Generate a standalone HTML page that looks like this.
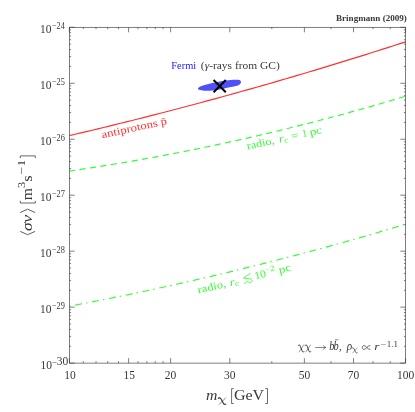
<!DOCTYPE html><html><head><meta charset="utf-8"><style>html,body{margin:0;padding:0;background:#fff}svg{will-change:transform}</style></head><body><svg width="415" height="412" viewBox="0 0 415 412" style="display:block;font-family:'Liberation Serif',serif">
<rect width="415" height="412" fill="#fff"/>
<clipPath id="cp"><rect x="69.4" y="27.3" width="336.20000000000005" height="335.8"/></clipPath>
<g clip-path="url(#cp)" fill="none">
<path d="M69.40,135.57 L75.10,134.24 L80.80,132.90 L86.49,131.56 L92.19,130.20 L97.89,128.83 L103.59,127.46 L109.29,126.07 L114.99,124.68 L120.68,123.28 L126.38,121.87 L132.08,120.45 L137.78,119.02 L143.48,117.58 L149.18,116.14 L154.87,114.68 L160.57,113.22 L166.27,111.74 L171.97,110.26 L177.67,108.77 L183.37,107.27 L189.06,105.76 L194.76,104.25 L200.46,102.72 L206.16,101.18 L211.86,99.64 L217.56,98.09 L223.25,96.52 L228.95,94.95 L234.65,93.37 L240.35,91.79 L246.05,90.19 L251.75,88.58 L257.44,86.97 L263.14,85.34 L268.84,83.71 L274.54,82.06 L280.24,80.41 L285.94,78.75 L291.63,77.08 L297.33,75.41 L303.03,73.72 L308.73,72.02 L314.43,70.32 L320.13,68.61 L325.82,66.88 L331.52,65.15 L337.22,63.41 L342.92,61.66 L348.62,59.90 L354.32,58.14 L360.01,56.36 L365.71,54.58 L371.41,52.78 L377.11,50.98 L382.81,49.17 L388.51,47.35 L394.20,45.52 L399.90,43.68 L405.60,41.83" stroke="#ff3030" stroke-width="1.18"/>
<path d="M69.40,171.07 L75.10,170.24 L80.80,169.39 L86.49,168.53 L92.19,167.66 L97.89,166.77 L103.59,165.86 L109.29,164.94 L114.99,164.01 L120.68,163.06 L126.38,162.09 L132.08,161.11 L137.78,160.11 L143.48,159.10 L149.18,158.08 L154.87,157.04 L160.57,155.98 L166.27,154.91 L171.97,153.82 L177.67,152.72 L183.37,151.61 L189.06,150.47 L194.76,149.33 L200.46,148.17 L206.16,146.99 L211.86,145.80 L217.56,144.59 L223.25,143.37 L228.95,142.13 L234.65,140.88 L240.35,139.61 L246.05,138.33 L251.75,137.03 L257.44,135.72 L263.14,134.39 L268.84,133.05 L274.54,131.69 L280.24,130.32 L285.94,128.93 L291.63,127.53 L297.33,126.11 L303.03,124.68 L308.73,123.23 L314.43,121.77 L320.13,120.29 L325.82,118.79 L331.52,117.28 L337.22,115.76 L342.92,114.22 L348.62,112.67 L354.32,111.10 L360.01,109.52 L365.71,107.92 L371.41,106.30 L377.11,104.67 L382.81,103.03 L388.51,101.37 L394.20,99.69 L399.90,98.00 L405.60,96.30" stroke="#33ff33" stroke-width="1.2" stroke-dasharray="6.1 4.47" stroke-dashoffset="0.4"/>
<path d="M69.40,306.22 L75.10,305.15 L80.80,304.06 L86.49,302.97 L92.19,301.87 L97.89,300.75 L103.59,299.63 L109.29,298.49 L114.99,297.34 L120.68,296.19 L126.38,295.02 L132.08,293.83 L137.78,292.64 L143.48,291.44 L149.18,290.23 L154.87,289.00 L160.57,287.77 L166.27,286.52 L171.97,285.26 L177.67,283.99 L183.37,282.72 L189.06,281.42 L194.76,280.12 L200.46,278.81 L206.16,277.49 L211.86,276.15 L217.56,274.81 L223.25,273.45 L228.95,272.08 L234.65,270.71 L240.35,269.32 L246.05,267.92 L251.75,266.51 L257.44,265.08 L263.14,263.65 L268.84,262.21 L274.54,260.75 L280.24,259.28 L285.94,257.81 L291.63,256.32 L297.33,254.82 L303.03,253.31 L308.73,251.79 L314.43,250.26 L320.13,248.71 L325.82,247.16 L331.52,245.59 L337.22,244.02 L342.92,242.43 L348.62,240.83 L354.32,239.22 L360.01,237.60 L365.71,235.97 L371.41,234.33 L377.11,232.68 L382.81,231.02 L388.51,229.34 L394.20,227.65 L399.90,225.96 L405.60,224.25" stroke="#33ff33" stroke-width="1.15" stroke-dasharray="7 4 1.5 4.665" stroke-dashoffset="11.23"/>
</g>
<path d="M198.00,88.30 C198.20,87.90 198.55,87.42 199.50,86.90 C200.45,86.38 202.03,85.73 203.70,85.20 C205.37,84.67 207.62,84.15 209.50,83.70 C211.38,83.25 213.30,82.85 215.00,82.50 C216.70,82.15 217.87,81.93 219.70,81.60 C221.53,81.27 224.12,80.78 226.00,80.50 C227.88,80.22 229.33,80.03 231.00,79.90 C232.67,79.77 234.58,79.67 236.00,79.70 C237.42,79.73 238.67,79.75 239.50,80.10 C240.33,80.45 240.85,81.22 241.00,81.80 C241.15,82.38 240.83,83.03 240.40,83.60 C239.97,84.17 239.97,84.63 238.40,85.20 C236.83,85.77 233.07,86.55 231.00,87.00 C228.93,87.45 227.88,87.47 226.00,87.90 C224.12,88.33 221.53,89.20 219.70,89.60 C217.87,90.00 216.70,90.10 215.00,90.30 C213.30,90.50 211.33,90.73 209.50,90.80 C207.67,90.87 205.58,90.82 204.00,90.70 C202.42,90.58 200.95,90.33 200.00,90.10 C199.05,89.87 198.63,89.60 198.30,89.30 C197.97,89.00 197.80,88.70 198.00,88.30Z" fill="#5050f8"/>
<path d="M213.6,80 L225.8,92.2 M225.8,80 L213.6,92.2" stroke="#000" stroke-width="2" fill="none"/>
<g stroke="#3a3a3a" stroke-width="0.65" fill="none">
<rect x="69.4" y="27.3" width="336.20000000000005" height="335.8"/>
<path d="M69.40,363.1v-5 M69.40,27.3v5 M128.60,363.1v-5 M128.60,27.3v5 M170.61,363.1v-5 M170.61,27.3v5 M229.81,363.1v-5 M229.81,27.3v5 M304.39,363.1v-5 M304.39,27.3v5 M353.52,363.1v-5 M353.52,27.3v5 M405.60,363.1v-5 M405.60,27.3v5 M83.32,363.1v-1.9 M83.32,27.3v1.9 M96.02,363.1v-1.9 M96.02,27.3v1.9 M107.71,363.1v-1.9 M107.71,27.3v1.9 M118.53,363.1v-1.9 M118.53,27.3v1.9 M138.03,363.1v-1.9 M138.03,27.3v1.9 M146.88,363.1v-1.9 M146.88,27.3v1.9 M155.22,363.1v-1.9 M155.22,27.3v1.9 M163.12,363.1v-1.9 M163.12,27.3v1.9 M271.81,363.1v-1.9 M271.81,27.3v1.9 M331.01,363.1v-1.9 M331.01,27.3v1.9 M373.02,363.1v-1.9 M373.02,27.3v1.9 M390.22,363.1v-1.9 M390.22,27.3v1.9 M69.4,363.10h5.3 M405.6,363.10h-5.3 M69.4,346.25h1.7 M405.6,346.25h-1.7 M69.4,336.40h1.7 M405.6,336.40h-1.7 M69.4,329.40h1.7 M405.6,329.40h-1.7 M69.4,323.98h1.7 M405.6,323.98h-1.7 M69.4,319.55h1.7 M405.6,319.55h-1.7 M69.4,315.80h1.7 M405.6,315.80h-1.7 M69.4,312.56h1.7 M405.6,312.56h-1.7 M69.4,309.69h1.7 M405.6,309.69h-1.7 M69.4,307.13h5.3 M405.6,307.13h-5.3 M69.4,290.29h1.7 M405.6,290.29h-1.7 M69.4,280.43h1.7 M405.6,280.43h-1.7 M69.4,273.44h1.7 M405.6,273.44h-1.7 M69.4,268.01h1.7 M405.6,268.01h-1.7 M69.4,263.58h1.7 M405.6,263.58h-1.7 M69.4,259.84h1.7 M405.6,259.84h-1.7 M69.4,256.59h1.7 M405.6,256.59h-1.7 M69.4,253.73h1.7 M405.6,253.73h-1.7 M69.4,251.17h5.3 M405.6,251.17h-5.3 M69.4,234.32h1.7 M405.6,234.32h-1.7 M69.4,224.46h1.7 M405.6,224.46h-1.7 M69.4,217.47h1.7 M405.6,217.47h-1.7 M69.4,212.05h1.7 M405.6,212.05h-1.7 M69.4,207.62h1.7 M405.6,207.62h-1.7 M69.4,203.87h1.7 M405.6,203.87h-1.7 M69.4,200.62h1.7 M405.6,200.62h-1.7 M69.4,197.76h1.7 M405.6,197.76h-1.7 M69.4,195.20h5.3 M405.6,195.20h-5.3 M69.4,178.35h1.7 M405.6,178.35h-1.7 M69.4,168.50h1.7 M405.6,168.50h-1.7 M69.4,161.50h1.7 M405.6,161.50h-1.7 M69.4,156.08h1.7 M405.6,156.08h-1.7 M69.4,151.65h1.7 M405.6,151.65h-1.7 M69.4,147.90h1.7 M405.6,147.90h-1.7 M69.4,144.66h1.7 M405.6,144.66h-1.7 M69.4,141.79h1.7 M405.6,141.79h-1.7 M69.4,139.23h5.3 M405.6,139.23h-5.3 M69.4,122.39h1.7 M405.6,122.39h-1.7 M69.4,112.53h1.7 M405.6,112.53h-1.7 M69.4,105.54h1.7 M405.6,105.54h-1.7 M69.4,100.11h1.7 M405.6,100.11h-1.7 M69.4,95.68h1.7 M405.6,95.68h-1.7 M69.4,91.94h1.7 M405.6,91.94h-1.7 M69.4,88.69h1.7 M405.6,88.69h-1.7 M69.4,85.83h1.7 M405.6,85.83h-1.7 M69.4,83.27h5.3 M405.6,83.27h-5.3 M69.4,66.42h1.7 M405.6,66.42h-1.7 M69.4,56.56h1.7 M405.6,56.56h-1.7 M69.4,49.57h1.7 M405.6,49.57h-1.7 M69.4,44.15h1.7 M405.6,44.15h-1.7 M69.4,39.72h1.7 M405.6,39.72h-1.7 M69.4,35.97h1.7 M405.6,35.97h-1.7 M69.4,32.72h1.7 M405.6,32.72h-1.7 M69.4,29.86h1.7 M405.6,29.86h-1.7 M69.4,27.30h5.3 M405.6,27.30h-5.3 "/>
</g>
<g fill="#383838">
<text x="70.00" y="378.60" font-size="11.5px" text-anchor="middle">10</text>
<text x="129.20" y="378.60" font-size="11.5px" text-anchor="middle">15</text>
<text x="170.61" y="378.60" font-size="11.5px" text-anchor="middle">20</text>
<text x="229.81" y="378.60" font-size="11.5px" text-anchor="middle">30</text>
<text x="304.39" y="378.60" font-size="11.5px" text-anchor="middle">50</text>
<text x="353.52" y="378.60" font-size="11.5px" text-anchor="middle">70</text>
<text x="405.60" y="378.60" font-size="11.5px" text-anchor="middle">100</text>
<text x="51.90" y="368.70" font-size="11.5px" text-anchor="end">10</text>
<text x="51.7" y="365.10" font-size="11.5px"><tspan font-size="9px">−</tspan>30</text>
<text x="51.40" y="312.73" font-size="11.5px" text-anchor="end">10</text>
<text transform="translate(51.80,308.83) scale(0.8938,1)" font-size="9.3px">−29</text>
<text x="51.40" y="256.77" font-size="11.5px" text-anchor="end">10</text>
<text transform="translate(51.80,252.87) scale(0.8938,1)" font-size="9.3px">−28</text>
<text x="51.40" y="200.80" font-size="11.5px" text-anchor="end">10</text>
<text transform="translate(51.80,196.90) scale(0.8938,1)" font-size="9.3px">−27</text>
<text x="51.40" y="144.83" font-size="11.5px" text-anchor="end">10</text>
<text transform="translate(51.80,140.93) scale(0.8938,1)" font-size="9.3px">−26</text>
<text x="51.40" y="88.87" font-size="11.5px" text-anchor="end">10</text>
<text transform="translate(51.80,84.97) scale(0.8938,1)" font-size="9.3px">−25</text>
<text x="51.40" y="32.90" font-size="11.5px" text-anchor="end">10</text>
<text transform="translate(51.80,29.00) scale(0.8938,1)" font-size="9.3px">−24</text>
<text transform="translate(336.00,21.30) scale(1.0106,1)" font-size="9px" style="font-weight:bold">Bringmann (2009)</text>
<text transform="translate(171.30,68.90) scale(0.9874,1)" font-size="10.6px" fill="#1a1aff">Fermi</text>
<text transform="translate(200.80,68.90) scale(1.0821,1)" font-size="10.6px">(<tspan style="font-style:italic">γ</tspan>-rays from GC)</text>
</g>
<g transform="translate(102.3,138.2) rotate(-12.2)" fill="#ff3030">
<text transform="translate(0.00,0.00) scale(1.1782,1)" font-size="10.8px">antiprotons p̄</text>
</g>
<g transform="translate(247.6,149.6) rotate(-12.5)" fill="#33ff33">
<text transform="translate(0.00,0.00) scale(1.1461,1)" font-size="10.6px">radio,</text>
<text transform="translate(32.60,0.00) scale(1.2121,1)" font-size="10.6px" style="font-style:italic">r</text>
<text transform="translate(37.80,1.60) scale(1.1562,1)" font-size="7.6px">c</text>
<text transform="translate(45.30,0.00) scale(1.2713,1)" font-size="10.6px">=</text>
<text transform="translate(56.60,0.00) scale(0.9811,1)" font-size="10.6px">1</text>
<text transform="translate(64.30,0.00) scale(1.2494,1)" font-size="10.6px">pc</text>
</g>
<g transform="translate(198.5,293.5) rotate(-13.4)" fill="#33ff33">
<text transform="translate(0.00,0.00) scale(1.1789,1)" font-size="10.6px">radio,</text>
<text transform="translate(32.80,0.00) scale(1.2121,1)" font-size="10.6px" style="font-style:italic">r</text>
<text transform="translate(37.70,1.60) scale(1.2747,1)" font-size="7.6px">c</text>
<path d="M55.3,-7.6 L47.2,-4.6 L55.3,-1.6 M47.0,1.6 C48.6,-0.8 50.2,-0.8 51.3,0.5 C52.5,1.9 54.0,1.9 55.6,-0.4" fill="none" stroke="#33ff33" stroke-width="0.8"/>
<text transform="translate(58.80,-0.50) scale(1.0364,1)" font-size="11.0px">10</text>
<text transform="translate(70.20,-4.90) scale(1.1688,1)" font-size="7.8px">−2</text>
<text transform="translate(83.40,-0.80) scale(1.2361,1)" font-size="10.8px">pc</text>
</g>
<g fill="#383838">
<path d="M298.10,345.76 C298.82,344.55 299.90,344.70 300.38,346.22 L302.06,350.78 C302.54,352.30 303.38,352.45 304.10,351.39" fill="none" stroke="#383838" stroke-width="1.0"/>
<path d="M303.92,344.70 L298.82,352.30" fill="none" stroke="#383838" stroke-width="0.5"/>
<path d="M304.90,345.76 C305.62,344.55 306.70,344.70 307.18,346.22 L308.86,350.78 C309.34,352.30 310.18,352.45 310.90,351.39" fill="none" stroke="#383838" stroke-width="1.0"/>
<path d="M310.72,344.70 L305.62,352.30" fill="none" stroke="#383838" stroke-width="0.5"/>
<path d="M315.2,347.5H325.6 M323.2,345.3 C323.8,346.5 324.6,347.2 326.0,347.5 C324.6,347.8 323.8,348.5 323.2,349.7" fill="none" stroke="#383838" stroke-width="0.6"/>
<text transform="translate(329.30,349.70) scale(0.8667,1)" font-size="12px" style="font-style:italic">b</text>
<text transform="translate(333.60,349.70) scale(0.8667,1)" font-size="12px" style="font-style:italic">b</text>
<path d="M334.9,339.8h3.4" stroke="#383838" stroke-width="0.6"/>
<text x="338.90" y="349.70" font-size="11.4px">,</text>
<text transform="translate(346.70,349.70) scale(0.9783,1)" font-size="11.5px" style="font-style:italic">ρ</text>
<path d="M351.90,348.38 C352.57,347.49 353.58,347.60 354.03,348.72 L355.60,352.08 C356.04,353.20 356.83,353.31 357.50,352.53" fill="none" stroke="#383838" stroke-width="0.75"/>
<path d="M357.33,347.60 L352.57,353.20" fill="none" stroke="#383838" stroke-width="0.45"/>
<path transform="translate(0.4,0)" d="M370.0,345.6 C367.2,345.2 365.6,349.4 363.7,349.4 C362.4,349.4 361.9,348.4 361.9,347.5 C361.9,346.6 362.4,345.6 363.7,345.6 C365.6,345.6 367.2,349.8 370.0,349.4" fill="none" stroke="#383838" stroke-width="0.75"/>
<text transform="translate(374.20,349.70) scale(1.1721,1)" font-size="11.4px" style="font-style:italic">r</text>
<text transform="translate(380.30,346.70) scale(1.4185,1)" font-size="7.5px">−</text>
<text transform="translate(386.80,346.70) scale(1.1947,1)" font-size="7.5px">1.1</text>
</g>
<g fill="#383838">
<text transform="translate(206.00,400.10) scale(1.0251,1)" font-size="15.4px" style="font-style:italic">m</text>
<path d="M217.90,398.59 C218.90,397.46 220.39,397.60 221.05,399.02 L223.38,403.28 C224.04,404.70 225.20,404.84 226.20,403.85" fill="none" stroke="#383838" stroke-width="1.2"/>
<path d="M225.95,397.60 L218.90,404.70" fill="none" stroke="#383838" stroke-width="0.6"/>
<path d="M233.7,388.6H231.6V403.5H233.7 M265.3,388.6H267.5V403.5H265.3" fill="none" stroke="#383838" stroke-width="0.75"/>
<text transform="translate(233.90,400.10) scale(1.0253,1)" font-size="15.6px">GeV</text>
</g>
<g transform="translate(31.8,235.0) rotate(-90)" fill="#383838">
<path d="M3.6,-11.6 L0.3,-4.2 L3.6,3.3 M22.5,-11.6 L25.8,-4.2 L22.5,3.3" fill="none" stroke="#383838" stroke-width="0.8"/>
<text transform="translate(4.00,0.00) scale(1.1324,1)" font-size="15.4px" style="font-style:italic">σ</text>
<text transform="translate(12.30,0.00) scale(1.1704,1)" font-size="15.4px" style="font-style:italic">v</text>
<path d="M34.2,-11.5H32.0V3.5H34.2 M76.9,-11.5H79.1V3.5H76.9" fill="none" stroke="#383838" stroke-width="0.75"/>
<text transform="translate(34.80,0.00) scale(1.0268,1)" font-size="15.4px">m</text>
<text transform="translate(47.00,-6.40) scale(1.1810,1)" font-size="10.5px">3</text>
<text transform="translate(53.20,0.00) scale(1.0679,1)" font-size="15.4px">s</text>
<text transform="translate(60.60,-6.40) scale(1.3510,1)" font-size="10.5px">−</text>
<text transform="translate(68.80,-6.40) scale(1.2190,1)" font-size="10.5px">1</text>
</g>
</svg></body></html>
